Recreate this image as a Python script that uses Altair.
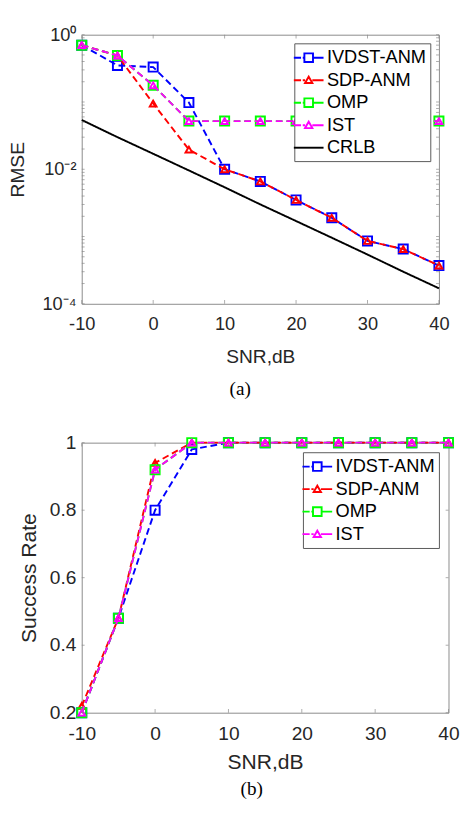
import altair as alt
import pandas as pd

# ---------------- data ----------------
snr = [-10, -5, 0, 5, 10, 15, 20, 25, 30, 35, 40]
methods_a = ["IVDST-ANM", "SDP-ANM", "OMP", "IST", "CRLB"]
methods_b = ["IVDST-ANM", "SDP-ANM", "OMP", "IST"]

rmse_ivdst = [0.70, 0.35, 0.33, 0.098, 0.0100, 0.0066, 0.0035, 0.0019, 0.00086, 0.00065, 0.00037]
rmse_sdp = [0.70, 0.49, 0.095, 0.0196, 0.0100, 0.0066, 0.0035, 0.0019, 0.00086, 0.00065, 0.00037]
rmse_omp = [0.70, 0.49, 0.177, 0.052, 0.052, 0.052, 0.052, 0.052, 0.052, 0.052, 0.052]
rmse_ist = [0.70, 0.49, 0.177, 0.052, 0.052, 0.052, 0.052, 0.052, 0.052, 0.052, 0.052]
rmse_crlb = [0.054, 0.030, 0.017, 0.0096, 0.0054, 0.0030, 0.0017, 0.00096, 0.00054, 0.00030, 0.00017]

sr_ivdst = [0.20, 0.48, 0.80, 0.98, 1.0, 1.0, 1.0, 1.0, 1.0, 1.0, 1.0]
sr_sdp = [0.22, 0.48, 0.94, 1.0, 1.0, 1.0, 1.0, 1.0, 1.0, 1.0, 1.0]
sr_omp = [0.20, 0.48, 0.92, 1.0, 1.0, 1.0, 1.0, 1.0, 1.0, 1.0, 1.0]
sr_ist = [0.20, 0.48, 0.92, 1.0, 1.0, 1.0, 1.0, 1.0, 1.0, 1.0, 1.0]

x_ticks = [-10, 0, 10, 20, 30, 40]
rmse_labels = [1e-4, 1e-2, 1.0]
sr_ticks = [0.2, 0.4, 0.6, 0.8, 1.0]

# ---------------- styles ----------------
colors = {"IVDST-ANM": "#0000ff", "SDP-ANM": "#ff0000", "OMP": "#00ff00",
          "IST": "#ff00ff", "CRLB": "#000000"}
markers = {"IVDST-ANM": "square", "SDP-ANM": "triangle-up", "OMP": "square",
           "IST": "triangle-up", "CRLB": None}
SQ_PATH = "M-1.55,0H-0.8M-0.62,0H-0.45M-0.45,-0.45H0.45V0.45H-0.45ZM0.45,0H1.55"
TRI_PATH = "M-1.55,0H-0.8M-0.62,0H-0.38M-0.38,0.3L0,-0.36L0.38,0.3ZM0.38,0H1.55"
LINE_PATH = "M-1.55,0H1.55"
leg_paths = {"IVDST-ANM": SQ_PATH, "SDP-ANM": TRI_PATH, "OMP": SQ_PATH,
             "IST": TRI_PATH, "CRLB": LINE_PATH}
GRAY = "#888888"
TXT = "#262626"
FONT = "Liberation Sans"


def long_df(series, methods):
    rows = []
    for m in methods:
        for s, v in zip(snr, series[m]):
            rows.append({"snr": s, "val": v, "method": m})
    return pd.DataFrame(rows)


def panel(series, methods, W, H, ys, yaxis, minor_y, caption, cap_dx, cap_offset, cap_size,
          x_lab_pad, x_title_pad, lab_size, title_size, leg_offset):
    df = long_df(series, methods)
    xs = alt.Scale(domain=[-10, 40], zero=False, nice=False)
    xaxis = alt.Axis(values=x_ticks, labelExpr="'' + datum.value", title="SNR,dB",
                     labelPadding=x_lab_pad, titlePadding=x_title_pad, labelFlush=False,
                     labelFontSize=lab_size, titleFontSize=title_size)
    layers = []
    for m in methods:
        d = df[df.method == m]
        dash = [1, 0] if m == "CRLB" else [7, 4]
        layers.append(alt.Chart(d).mark_line(color=colors[m], strokeWidth=2, strokeDash=dash).encode(
            x=alt.X("snr:Q", scale=xs, axis=xaxis),
            y=alt.Y("val:Q", scale=ys, axis=yaxis)))
        if markers[m]:
            size = 90 if markers[m] == "square" else 50
            layers.append(alt.Chart(d).mark_point(shape=markers[m], filled=False, color=colors[m],
                                                  size=size, strokeWidth=2, opacity=1).encode(
                x=alt.X("snr:Q", scale=xs, axis=xaxis),
                y=alt.Y("val:Q", scale=ys, axis=yaxis)))
    # legend-only layer (no rows drawn)
    layers.append(alt.Chart(df).transform_filter("false").mark_point(filled=False, strokeWidth=2, opacity=1).encode(
        x=alt.X("snr:Q", scale=xs, axis=xaxis),
        y=alt.Y("val:Q", scale=ys, axis=yaxis),
        color=alt.Color("method:N", scale=alt.Scale(domain=methods, range=[colors[m] for m in methods]),
                        legend=alt.Legend(title=None, orient="top-right", offset=leg_offset)),
        shape=alt.Shape("method:N", scale=alt.Scale(domain=methods, range=[leg_paths[m] for m in methods]))))
    # inward ticks
    tx = pd.DataFrame({"snr": x_ticks})
    for yv in [alt.value(H - 2), alt.value(2)]:
        layers.append(alt.Chart(tx).mark_tick(orient="vertical", size=4, thickness=1, color=GRAY).encode(
            x=alt.X("snr:Q", scale=xs, axis=xaxis), y=yv))
    ty = pd.DataFrame({"val": minor_y})
    for xv in [alt.value(1.5), alt.value(W - 1.5)]:
        layers.append(alt.Chart(ty).mark_tick(orient="horizontal", size=3, thickness=1, color=GRAY).encode(
            y=alt.Y("val:Q", scale=ys, axis=yaxis), x=xv))
    return alt.layer(*layers).properties(
        width=W, height=H,
        title=alt.TitleParams(caption, orient="bottom", font="Liberation Serif", fontSize=cap_size,
                              fontWeight="normal", color="#000000", frame="group", dx=cap_dx,
                              offset=cap_offset))


# top panel
rmse = {"IVDST-ANM": rmse_ivdst, "SDP-ANM": rmse_sdp, "OMP": rmse_omp, "IST": rmse_ist, "CRLB": rmse_crlb}
minor_log = [k * 10.0 ** e for e in [-4, -3, -2, -1] for k in range(1, 10)] + [1.0]
ys_a = alt.Scale(type="log", domain=[1e-4, 1], nice=False)
yaxis_a = alt.Axis(values=rmse_labels,
                   labelExpr="datum.value > 0.5 ? '10⁰' : (datum.value > 0.001 ? '10⁻²' : '10⁻⁴')",
                   title="RMSE", labelPadding=6, titlePadding=15, labelFontSize=19, titleFontSize=20)
top = panel(rmse, methods_a, 373, 281, ys_a, yaxis_a, minor_log, "(a)", -21, 14, 20,
            12, 14, 19, 20, 9)

# bottom panel
sr = {"IVDST-ANM": sr_ivdst, "SDP-ANM": sr_sdp, "OMP": sr_omp, "IST": sr_ist}
ys_b = alt.Scale(domain=[0.2, 1.0], zero=False, nice=False)
yaxis_b = alt.Axis(values=sr_ticks, labelExpr="'' + datum.value", title="Success Rate",
                   labelPadding=6, titlePadding=9, labelFontSize=20, titleFontSize=22)
bottom = panel(sr, methods_b, 383, 282, ys_b, yaxis_b, sr_ticks, "(b)", -14, 8, 20,
               12, 9, 20, 22, 10)

chart = alt.concat(top, bottom, columns=1, spacing=34, align="none").resolve_scale(
    color="independent", shape="independent", x="independent", y="independent"
).resolve_legend(color="independent", shape="independent").properties(
    padding=0
).configure_axis(
    labelFont=FONT, labelColor=TXT, titleFont=FONT,
    titleFontWeight="normal", titleColor=TXT, domain=False, ticks=False, grid=False
).configure_view(stroke=GRAY, strokeWidth=1).configure_legend(
    labelFont=FONT, labelFontSize=19, labelColor="#000000", symbolSize=400,
    symbolStrokeWidth=2, symbolFillColor="transparent", rowPadding=2.5, padding=4,
    strokeColor="#555555", fillColor="#ffffff", labelOffset=8
)

chart.save("out.html", embed_options={"renderer": "svg", "actions": False})
